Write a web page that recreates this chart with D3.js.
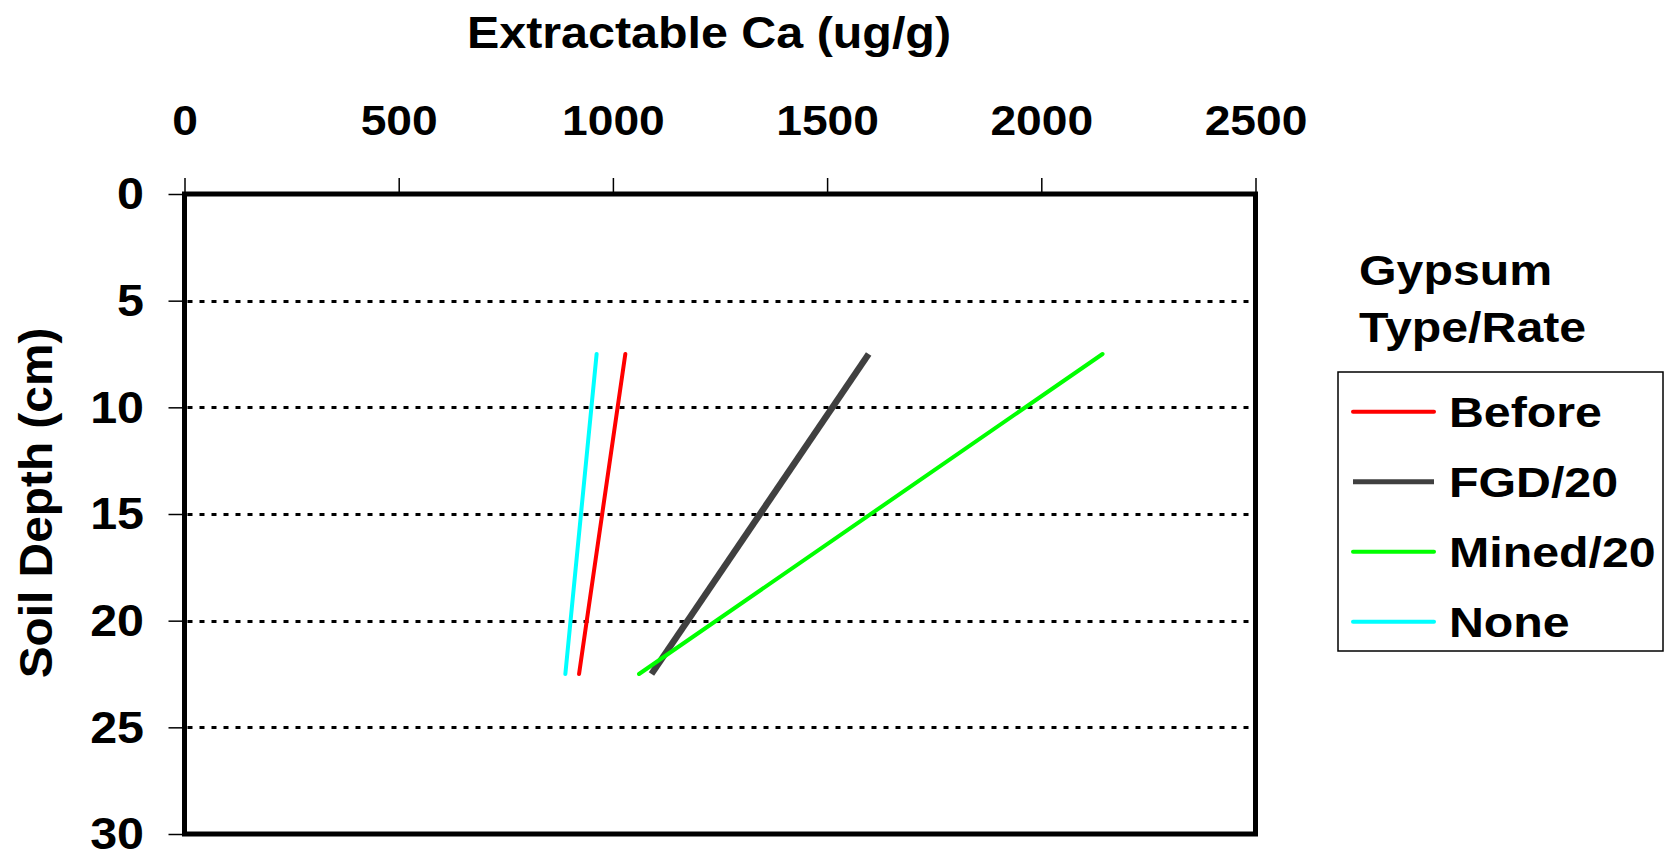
<!DOCTYPE html>
<html>
<head>
<meta charset="utf-8">
<script src="https://cdn.jsdelivr.net/npm/d3@7"></script>
<style>
  html, body { margin: 0; padding: 0; background: #fff; }
  svg text { font-family: "Liberation Sans", Arial, sans-serif; font-weight: bold; fill: #000; }
</style>
</head>
<body>
<svg id="chart" width="1669" height="852"></svg>
<script>
// ---- data ----
const depths = [7.5, 22.5];
const seriesNames = ["Before", "FGD/20", "Mined/20", "None"];
const before = [1029, 921];
const fgd20 = [1597, 1090];
const mined20 = [2143, 1061];
const none = [962, 889];
const xTicks = [0, 500, 1000, 1500, 2000, 2500];
const yTicks = [0, 5, 10, 15, 20, 25, 30];
const gridDepths = [5, 10, 15, 20, 25];
const xTitle = "Extractable Ca (ug/g)";
const yTitle = "Soil Depth (cm)";
const legendTitle = ["Gypsum", "Type/Rate"];
const seriesColors = ["#ff0000", "#404040", "#00ff00", "#00ffff"];

const seriesValues = [before, fgd20, mined20, none];
const series = seriesNames.map((name, i) => ({
  name, color: seriesColors[i],
  width: name === "FGD/20" ? 6.5 : 4,
  points: depths.map((d, j) => ({ depth: d, value: seriesValues[i][j] }))
}));

// ---- layout ----
const SX = 1.1; // horizontal text stretch
const SXL = 1.15; // legend text stretch
const plot = { left: 184.5, top: 194, width: 1071, height: 640 };
const svg = d3.select("#chart");

const x = d3.scaleLinear().domain([0, 2500]).range([plot.left, plot.left + plot.width]);
const y = d3.scaleLinear().domain([0, 30]).range([plot.top, plot.top + plot.height]);

// gridlines
svg.append("g").selectAll("line").data(gridDepths).join("line")
  .attr("x1", x(0) + 3).attr("x2", x(2500))
  .attr("y1", d => Math.round(y(d)) + 0.5).attr("y2", d => Math.round(y(d)) + 0.5)
  .attr("stroke", "#000").attr("stroke-width", 3)
  .attr("stroke-dasharray", "5,7");

// top axis
const gx = svg.append("g").attr("transform", `translate(0,${plot.top})`)
  .call(d3.axisTop(x).tickValues(xTicks).tickSize(16).tickFormat(d3.format("d")));
gx.select(".domain").remove();
gx.selectAll(".tick line").attr("stroke", "#000").attr("stroke-width", 1.5);
gx.selectAll(".tick text")
  .attr("y", -59).attr("dy", "0")
  .attr("font-size", 42)
  .attr("transform", `scale(${SX},1)`);

// left axis
const gy = svg.append("g").attr("transform", `translate(${plot.left},0)`)
  .call(d3.axisLeft(y).tickValues(yTicks).tickSize(16).tickFormat(d3.format("d")));
gy.select(".domain").remove();
gy.selectAll(".tick line").attr("stroke", "#000").attr("stroke-width", 1.5);
gy.selectAll(".tick text")
  .attr("x", -40.5 / SX).attr("dy", "0.34em")
  .attr("font-size", 44)
  .attr("transform", `scale(${SX},1)`);

// plot border
svg.append("rect")
  .attr("x", plot.left).attr("y", plot.top)
  .attr("width", plot.width).attr("height", plot.height)
  .attr("fill", "none").attr("stroke", "#000").attr("stroke-width", 5);

// lines
const line = d3.line().x(d => x(d.value)).y(d => y(d.depth));
svg.append("g").selectAll("path").data(series).join("path")
  .attr("d", d => line(d.points))
  .attr("fill", "none")
  .attr("stroke", d => d.color)
  .attr("stroke-width", d => d.width)
  .attr("stroke-linecap", d => d.name === "FGD/20" ? "butt" : "round");

// titles
svg.append("text")
  .attr("transform", `translate(709,48) scale(${SX},1)`)
  .attr("text-anchor", "middle").attr("font-size", 44)
  .text(xTitle);

svg.append("text")
  .attr("transform", `translate(52,503) rotate(-90) scale(1.04,1)`)
  .attr("text-anchor", "middle").attr("font-size", 46)
  .text(yTitle);

// legend
const lg = svg.append("g");
lg.selectAll("text.lt").data(legendTitle).join("text").attr("class", "lt")
  .attr("transform", (d, i) => `translate(1359,${285 + i * 56.7}) scale(${SXL},1)`)
  .attr("font-size", 42)
  .text(d => d);

lg.append("rect")
  .attr("x", 1338).attr("y", 372).attr("width", 325).attr("height", 279)
  .attr("fill", "none").attr("stroke", "#000").attr("stroke-width", 1.5);

const items = lg.selectAll("g.item").data(series).join("g").attr("class", "item")
  .attr("transform", (d, i) => `translate(0,${426.7 + i * 70})`);
items.append("line")
  .attr("x1", 1353).attr("x2", 1434).attr("y1", -15).attr("y2", -15)
  .attr("stroke", d => d.color).attr("stroke-width", d => d.name === "FGD/20" ? 5 : 4)
  .attr("stroke-linecap", d => d.name === "FGD/20" ? "butt" : "round");
items.append("text")
  .attr("transform", `translate(1449,0) scale(${SXL},1)`)
  .attr("font-size", 42)
  .text(d => d.name);
</script>
</body>
</html>
